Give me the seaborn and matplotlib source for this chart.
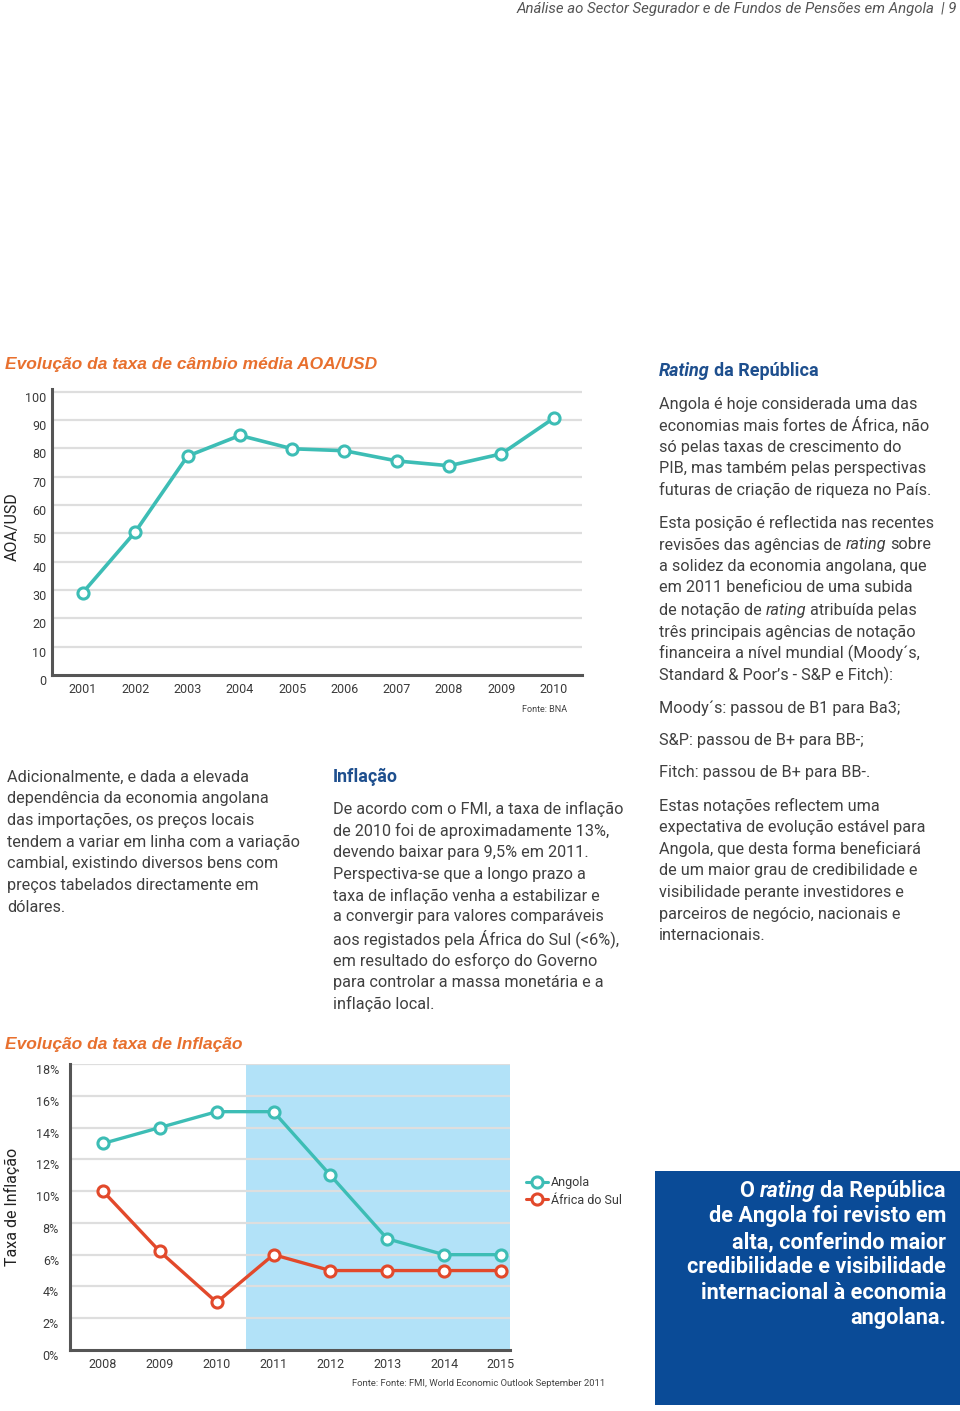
import matplotlib
matplotlib.use("Agg")
import matplotlib.pyplot as plt
import matplotlib.transforms as mtransforms
from matplotlib.lines import Line2D
from matplotlib.patches import Rectangle
import seaborn as sns
import pandas as pd

# ---------------- data ----------------
years_fx = [2001, 2002, 2003, 2004, 2005, 2006, 2007, 2008, 2009, 2010]
aoa_usd = [29.1, 50.5, 77.3, 84.6, 79.9, 79.2, 75.6, 73.9, 78.1, 90.7]
fx_yticks = [0, 10, 20, 30, 40, 50, 60, 70, 80, 90, 100]

years_inf = [2008, 2009, 2010, 2011, 2012, 2013, 2014, 2015]
angola_inf = [13.0, 14.0, 15.0, 15.0, 11.0, 7.0, 6.0, 6.0]
africa_sul_inf = [10.0, 6.2, 3.0, 6.0, 5.0, 5.0, 5.0, 5.0]
inf_yticks = [0, 2, 4, 6, 8, 10, 12, 14, 16, 18]
inf_ytick_labels = ["0%", "2%", "4%", "6%", "8%", "10%", "12%", "14%", "16%", "18%"]
series_names = ["Angola", "África do Sul"]

# ---------------- style ----------------
sns.set_theme(style="white")
BODY_FONT = ["Roboto", "DejaVu Sans"]
plt.rcParams["font.family"] = BODY_FONT

W, H = 960, 1411
TEAL = "#3DBDB5"
RED = "#E2492B"
ORANGE = "#E8702E"
BLUE_HEAD = "#1E4F8E"
BOX_BLUE = "#0A4B97"
SHADE = "#B2E2F8"
GRID = "#DEDEDE"
SPINE = "#555555"
TXT = "#3A3A3A"

fig = plt.figure(figsize=(W / 100, H / 100), dpi=100)
fig.patch.set_facecolor("white")


def fx(x):
    return x / W


def fy(y):
    return 1 - y / H


def ax_rect(left, top, right, bottom):
    return [fx(left), fy(bottom), (right - left) / W, (bottom - top) / H]


# ---------------- chart 1: exchange rate ----------------
ax1 = fig.add_axes(ax_rect(52, 389, 582, 675))
df_fx = pd.DataFrame({"ano": years_fx, "valor": aoa_usd})
sns.lineplot(data=df_fx, x="ano", y="valor", ax=ax1, color=TEAL, lw=2.6,
             marker="o", markersize=8, markerfacecolor="white",
             markeredgecolor=TEAL, markeredgewidth=2.2, zorder=5)
ax1.set_xlim(2000.41, 2010.54)
ax1.set_ylim(0, 101)
ax1.set_yticks(fx_yticks)
ax1.set_xticks(years_fx)
ax1.set_xticklabels([str(y) for y in years_fx])
ax1.set_xlabel("")
ax1.set_ylabel("")
for yv in fx_yticks[1:]:
    ax1.axhline(yv, color=GRID, lw=1.6, zorder=1)
for s in ["top", "right"]:
    ax1.spines[s].set_visible(False)
for s in ["left", "bottom"]:
    ax1.spines[s].set_color(SPINE)
    ax1.spines[s].set_linewidth(2.2)
ax1.tick_params(axis="both", length=0, labelsize=9, colors=TXT)
ax1.tick_params(axis="y", pad=4)
ax1.tick_params(axis="x", pad=6)
off = mtransforms.ScaledTranslation(0, -5 / 100, fig.dpi_scale_trans)
for lab in ax1.get_yticklabels():
    lab.set_transform(lab.get_transform() + off)

fig.text(fx(12), fy(527), "AOA/USD", rotation=90, ha="center", va="center",
         fontsize=11.5, color="#222222")
fig.text(fx(567), fy(709), "Fonte: BNA", ha="right", va="center", fontsize=6.5,
         color="#444444")
fig.text(fx(5), fy(364), "Evolução da taxa de câmbio média AOA/USD", ha="left",
         va="center", fontsize=12.5, fontweight="bold", fontstyle="italic",
         color=ORANGE, family=["Liberation Sans", "DejaVu Sans"])

# ---------------- chart 2: inflation ----------------
ax2 = fig.add_axes(ax_rect(70, 1064, 510, 1350))
ax2.set_xlim(2007.42, 2015.16)
ax2.set_ylim(0, 18)
ax2.axvspan(2010.51, 2015.16, ymin=0, ymax=1, color=SHADE, lw=0, zorder=0)
for yv in inf_yticks[1:]:
    ax2.axhline(yv, color=GRID, lw=1.6, zorder=1)
df_inf = pd.DataFrame({
    "ano": years_inf * 2,
    "valor": angola_inf + africa_sul_inf,
    "pais": [series_names[0]] * len(years_inf) + [series_names[1]] * len(years_inf),
})
sns.lineplot(data=df_inf, x="ano", y="valor", hue="pais",
             palette={series_names[0]: TEAL, series_names[1]: RED},
             ax=ax2, lw=2.4, marker="o", markersize=8, markerfacecolor="white",
             markeredgewidth=2.2, legend=False, zorder=5)
for line in ax2.lines:
    if line.get_marker() == "o":
        line.set_markeredgecolor(line.get_color())
ax2.set_xticks(years_inf)
ax2.set_xticklabels([str(y) for y in years_inf])
ax2.set_yticks(inf_yticks)
ax2.set_yticklabels(inf_ytick_labels)
ax2.set_xlabel("")
ax2.set_ylabel("")
for s in ["top", "right"]:
    ax2.spines[s].set_visible(False)
for s in ["left", "bottom"]:
    ax2.spines[s].set_color(SPINE)
    ax2.spines[s].set_linewidth(2.2)
ax2.tick_params(axis="both", length=0, labelsize=9, colors=TXT)
ax2.tick_params(axis="y", pad=8)
ax2.tick_params(axis="x", pad=6)
for lab in ax2.get_yticklabels():
    lab.set_transform(lab.get_transform() + off)

handles = [Line2D([0], [0], color=TEAL, lw=2.2, marker="o", markersize=8,
                  markerfacecolor="white", markeredgecolor=TEAL, markeredgewidth=2.2),
           Line2D([0], [0], color=RED, lw=2.2, marker="o", markersize=8,
                  markerfacecolor="white", markeredgecolor=RED, markeredgewidth=2.2)]
fig.legend(handles, series_names, loc="upper left",
           bbox_to_anchor=(fx(520), fy(1170)), frameon=False, fontsize=9,
           handlelength=1.7, handletextpad=0.3, labelspacing=0.35,
           borderpad=0, labelcolor=TXT)

fig.text(fx(12), fy(1207), "Taxa de Inflação", rotation=90, ha="center", va="center",
         fontsize=11.5, color="#222222")
fig.text(fx(352), fy(1384), "Fonte: Fonte: FMI, World Economic Outlook September 2011",
         ha="left", va="center", fontsize=6.8, color="#444444")
fig.text(fx(5), fy(1044), "Evolução da taxa de Inflação", ha="left",
         va="center", fontsize=12.5, fontweight="bold", fontstyle="italic",
         color=ORANGE, family=["Liberation Sans", "DejaVu Sans"])

# ---------------- header ----------------
fig.text(fx(957), fy(9), "Análise ao Sector Segurador e de Fundos de Pensões em Angola  | 9",
         ha="right", va="center", fontsize=10.8, fontstyle="italic", color="#555555")

# ---------------- text helpers ----------------
fig.canvas.draw()
renderer = fig.canvas.get_renderer()


def seg_line(x, y, segments, ha="left", **kw):
    """segments: list of (text, style_dict)"""
    arts = []
    widths = []
    for txt, st in segments:
        t = fig.text(0, 0, txt, va="center", ha="left", **{**kw, **st})
        w = t.get_window_extent(renderer).width
        arts.append(t)
        widths.append(w)
    probe = fig.text(0, 0, "x x", **kw)
    probe2 = fig.text(0, 0, "xx", **kw)
    sp = probe.get_window_extent(renderer).width - probe2.get_window_extent(renderer).width
    probe.remove()
    probe2.remove()
    total = sum(widths) + sp * (len(segments) - 1)
    cur = x if ha == "left" else x - total
    for t, w in zip(arts, widths):
        t.set_position((fx(cur), fy(y)))
        cur += w + sp


BODY = dict(fontsize=11.7, color="#404040", fontweight="normal")


def para(x, ys, lines):
    for y, ln in zip(ys, lines):
        if isinstance(ln, list):
            seg_line(x, y, ln, **BODY)
        else:
            fig.text(fx(x), fy(y), ln, ha="left", va="center", **BODY)


IT = {"fontstyle": "italic"}
NO = {}

# right column
seg_line(659, 371, [("Rating", IT), ("da República", NO)],
         fontsize=13, fontweight="bold", color=BLUE_HEAD)
para(659, [404, 425, 447, 469, 490], [
    "Angola é hoje considerada uma das",
    "economias mais fortes de África, não",
    "só pelas taxas de crescimento do",
    "PIB, mas também pelas perspectivas",
    "futuras de criação de riqueza no País.",
])
para(659, [523, 545, 566, 588, 610, 632, 653, 675], [
    "Esta posição é reflectida nas recentes",
    [("revisões das agências de", NO), ("rating", IT), ("sobre", NO)],
    "a solidez da economia angolana, que",
    "em 2011 beneficiou de uma subida",
    [("de notação de", NO), ("rating", IT), ("atribuída pelas", NO)],
    "três principais agências de notação",
    "financeira a nível mundial (Moody´s,",
    "Standard & Poor’s - S&P e Fitch):",
])
para(659, [708], ["Moody´s: passou de B1 para Ba3;"])
para(659, [740], ["S&P: passou de B+ para BB-;"])
para(659, [773], ["Fitch: passou de B+ para BB-."])
para(659, [806, 827, 849, 871, 892, 914, 936], [
    "Estas notações reflectem uma",
    "expectativa de evolução estável para",
    "Angola, que desta forma beneficiará",
    "de um maior grau de credibilidade e",
    "visibilidade perante investidores e",
    "parceiros de negócio, nacionais e",
    "internacionais.",
])

# left column
para(7, [777, 798, 820, 842, 863, 885, 907], [
    "Adicionalmente, e dada a elevada",
    "dependência da economia angolana",
    "das importações, os preços locais",
    "tendem a variar em linha com a variação",
    "cambial, existindo diversos bens com",
    "preços tabelados directamente em",
    "dólares.",
])

# middle column
fig.text(fx(333), fy(777), "Inflação", ha="left", va="center", fontsize=12.8,
         fontweight="bold", color=BLUE_HEAD)
para(333, [809, 831, 852, 874, 896, 917, 939, 961, 982, 1004], [
    "De acordo com o FMI, a taxa de inflação",
    "de 2010 foi de aproximadamente 13%,",
    "devendo baixar para 9,5% em 2011.",
    "Perspectiva-se que a longo prazo a",
    "taxa de inflação venha a estabilizar e",
    "a convergir para valores comparáveis",
    "aos registados pela África do Sul (<6%),",
    "em resultado do esforço do Governo",
    "para controlar a massa monetária e a",
    "inflação local.",
])

# blue box
fig.patches.append(Rectangle((fx(655), fy(1405)), (960 - 655) / W, (1405 - 1171) / H,
                             transform=fig.transFigure, facecolor=BOX_BLUE,
                             edgecolor="none", zorder=0))
BOX = dict(fontsize=15.6, color="white", fontweight="bold")
seg_line(946, 1191, [("O", NO), ("rating", IT), ("da República", NO)], ha="right", **BOX)
for y, ln in zip([1216, 1242, 1267, 1293, 1318], [
    "de Angola foi revisto em",
    "alta, conferindo maior",
    "credibilidade e visibilidade",
    "internacional à economia",
    "angolana.",
]):
    fig.text(fx(946), fy(y), ln, ha="right", va="center", **BOX)

fig.savefig("out.png", dpi=100, facecolor="white")
